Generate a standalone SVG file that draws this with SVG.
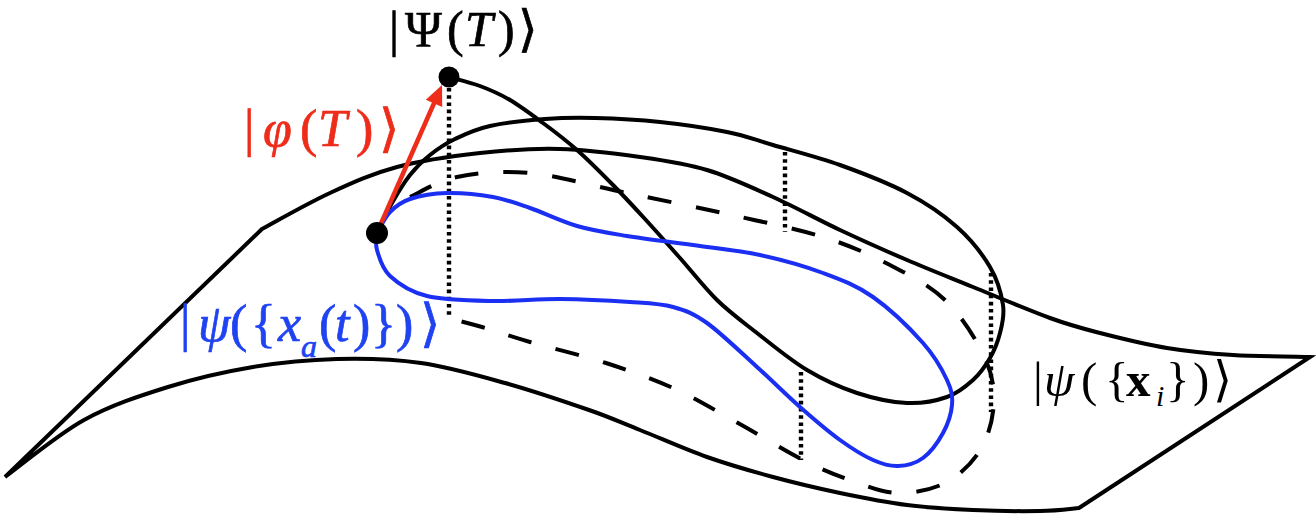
<svg xmlns="http://www.w3.org/2000/svg" width="1316" height="519" viewBox="0 0 1316 519">
<style>
.ln{fill:none;stroke:#000;stroke-width:4;stroke-linecap:round;stroke-linejoin:miter}
.dash{fill:none;stroke:#000;stroke-width:4;stroke-dasharray:24 25}
.dot{fill:none;stroke:#000;stroke-width:4.4;stroke-dasharray:3.6 3.6}
.blue{fill:none;stroke:#1a2ff2;stroke-width:4}
.lbl{font-family:"Liberation Serif","DejaVu Serif",serif}
.heavy{stroke-width:0.7}
.it{font-style:italic}
</style>
<rect width="1316" height="519" fill="#fff"/>
<g id="surface">
<path class="ln" d="M5,477 L262,229 C273.3,223 307.5,203.3 330,193 C352.5,182.7 372,173.7 397,167 C422,160.3 452.8,156 480,153 C507.2,150 533.3,148.3 560,149 C586.7,149.7 615.5,153.5 640,157 C664.5,160.5 684.8,163.3 707,170 C729.2,176.7 750.8,187 773,197 C795.2,207 817.7,219.5 840,230 C862.3,240.5 884.8,250.5 907,260 C929.2,269.5 949.2,277.3 973,287 C996.8,296.7 1028.8,310.3 1050,318 C1071.2,325.7 1080.5,328 1100,333 C1119.5,338 1144.8,344.3 1167,348 C1189.2,351.7 1209.2,353.5 1233,355 C1256.8,356.5 1297.2,356.7 1310,357 L1079,508 C1072.5,508.5 1057.7,510.7 1040,511 C1022.3,511.3 995.2,511 973,510 C950.8,509 929.2,507.8 907,505 C884.8,502.2 862.3,497.7 840,493 C817.7,488.3 795.2,483 773,477 C750.8,471 729.2,464.8 707,457 C684.8,449.2 659.7,437.8 640,430 C620.3,422.2 611.5,417.8 589,410 C566.5,402.2 533,390.8 505,383 C477,375.2 449,367 421,363 C393,359 365,358.3 337,359 C309,359.7 281.2,362.3 253,367 C224.8,371.7 196.2,378.2 168,387 C139.8,395.8 111.2,405 84,420 C56.8,435 18.2,467.5 5,477 Z"/>
</g>
<g id="projection">
<path class="dash" d="M410,197 C417.8,193.7 437,181 457,177 C477,173 501.7,170.3 530,173 C558.3,175.7 594.2,186.2 627,193 C659.8,199.8 694.3,206.7 727,214 C759.7,221.3 795.8,228.5 823,237 C850.2,245.5 869.7,254.5 890,265 C910.3,275.5 929.7,285.5 945,300 C960.3,314.5 973.8,335.7 982,352 C990.2,368.3 994,382.2 994,398 C994,413.8 989.8,433 982,447 C974.2,461 961,474.3 947,482 C933,489.7 914.2,493.3 898,493 C881.8,492.7 865.8,485.5 850,480 C834.2,474.5 821.7,469.5 803,460 C784.3,450.5 759.7,435 738,423 C716.3,411 695,398 673,388 C651,378 629.8,370.7 606,363 C582.2,355.3 550.7,348 530,342 C509.3,336 495.7,331 482,327 C468.3,323 453.7,319.5 448,318"/>
</g>
<g id="drop-lines">
<path class="dot" d="M449,88 V318 M785,152 V232 M801,372 V460 M991,273 V412"/>
</g>
<g id="trajectory-psi">
<path class="ln" d="M377,233 C379.5,228 386.5,212.7 392,203 C397.5,193.3 403.7,183 410,175 C416.3,167 422.5,161 430,155 C437.5,149 445,143.8 455,139 C465,134.2 475,129.3 490,126 C505,122.7 527.5,120.3 545,119 C562.5,117.7 575.8,117.5 595,118 C614.2,118.5 638,119.7 660,122 C682,124.3 708.2,128.2 727,132 C745.8,135.8 754.2,139.5 773,145 C791.8,150.5 817.7,157 840,165 C862.3,173 887.5,182.7 907,193 C926.5,203.3 943.2,214.7 957,227 C970.8,239.3 982.3,254 990,267 C997.7,280 1001.3,294 1003,305 C1004.7,316 1002.2,324.2 1000,333 C997.8,341.8 994.5,350.2 990,358 C985.5,365.8 980.2,373.5 973,380 C965.8,386.5 958,393.2 947,397 C936,400.8 922,403.7 907,403 C892,402.3 873.7,398.5 857,393 C840.3,387.5 823.7,380 807,370 C790.3,360 772,344.7 757,333 C742,321.3 729.8,312.5 717,300 C704.2,287.5 692,271.5 680,258 C668,244.5 656.2,231.2 645,219 C633.8,206.8 624.3,196.5 613,185 C601.7,173.5 588.7,160.3 577,150 C565.3,139.7 554.2,131.3 543,123 C531.8,114.7 520.5,106.2 510,100 C499.5,93.8 490.2,89.8 480,86 C469.8,82.2 454.2,78.5 449,77"/>
</g>
<g id="trajectory-blue">
<path class="blue" d="M377,233 C379.2,229.5 384.5,217.7 390,212 C395.5,206.3 400.5,202.2 410,199 C419.5,195.8 433.2,193.3 447,193 C460.8,192.7 479.2,194.5 493,197 C506.8,199.5 516,203.2 530,208 C544,212.8 560.8,221.3 577,226 C593.2,230.7 607.7,232.8 627,236 C646.3,239.2 670.8,241.8 693,245 C715.2,248.2 738.3,250.3 760,255 C781.7,259.7 804.2,266 823,273 C841.8,280 856.3,285.3 873,297 C889.7,308.7 910.7,329.2 923,343 C935.3,356.8 942.2,369.7 947,380 C951.8,390.3 952.7,396.2 952,405 C951.3,413.8 947.8,424.2 943,433 C938.2,441.8 930.5,452.5 923,458 C915.5,463.5 906.3,465.7 898,466 C889.7,466.3 882.7,464.3 873,460 C863.3,455.7 852.2,448.8 840,440 C827.8,431.2 813.8,419.2 800,407 C786.2,394.8 772.5,381 757,367 C741.5,353 721,333 707,323 C693,313 685.8,310.5 673,307 C660.2,303.5 648.8,303.3 630,302 C611.2,300.7 582.8,299.2 560,299 C537.2,298.8 515.2,301.5 493,301 C470.8,300.5 444.2,300.2 427,296 C409.8,291.8 398.3,283.7 390,276 C381.7,268.3 379.2,257.2 377,250 C374.8,242.8 377,235.8 377,233"/>
</g>
<g id="connectors">
<g id="arrow-phi">
<line x1="379" y1="228" x2="435" y2="101" stroke="#ee2c1a" stroke-width="4.5"/>
<polygon points="442,85 425.8,99.7 442.2,107" fill="#ee2c1a"/>
</g>
</g>
<g id="node-psiT">
<circle cx="449" cy="77" r="10.5" fill="#000"/>
<text class="lbl heavy" font-size="50" fill="#000" stroke="#000"><tspan x="389" y="46">|</tspan><tspan x="405">Ψ</tspan><tspan x="447">(</tspan><tspan x="465" class="it">T</tspan><tspan x="498">)</tspan><tspan x="518">⟩</tspan></text>
</g>
<g id="node-start">
<circle cx="377" cy="233" r="11" fill="#000"/>
</g>
<g id="label-phi">
<text class="lbl heavy" font-size="52" fill="#ee2c1a" stroke="#ee2c1a"><tspan x="244" y="146">|</tspan><tspan x="263" class="it">φ</tspan><tspan x="300">(</tspan><tspan x="318" class="it">T</tspan><tspan x="356">)</tspan><tspan x="379">⟩</tspan></text>
</g>
<g id="label-blue">
<text class="lbl heavy" font-size="52" fill="#2043f2" stroke="#2043f2"><tspan x="180" y="341">|</tspan><tspan x="198" class="it">ψ</tspan><tspan x="230">(</tspan><tspan x="251">{</tspan><tspan x="278" class="it">x</tspan><tspan x="301" y="357" font-size="32" class="it">a</tspan><tspan x="319" y="341">(</tspan><tspan x="335" class="it">t</tspan><tspan x="353">)</tspan><tspan x="371">}</tspan><tspan x="396">)</tspan><tspan x="420">⟩</tspan></text>
</g>
<g id="label-psi-x">
<text class="lbl" font-size="49" fill="#000"><tspan x="1033" y="396">|</tspan><tspan x="1044" class="it">ψ</tspan><tspan x="1081">(</tspan><tspan x="1105">{</tspan><tspan x="1126" font-weight="bold">x</tspan><tspan x="1156" y="406" font-size="30" class="it">i</tspan><tspan x="1166" y="396">}</tspan><tspan x="1193">)</tspan><tspan x="1213">⟩</tspan></text>
</g>
</svg>
